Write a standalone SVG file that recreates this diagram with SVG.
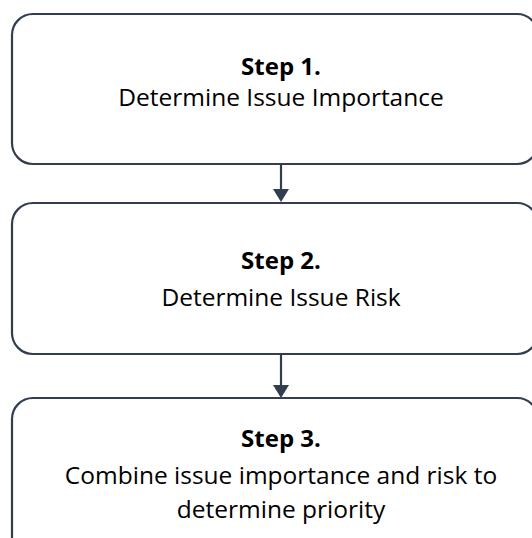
<svg xmlns="http://www.w3.org/2000/svg" width="532" height="538" viewBox="0 0 532 538">
<defs>
<style>
.box{fill:#fff;stroke:#323e50;stroke-width:2.2}
.t{font-family:"Open Sans","Liberation Sans",sans-serif;font-size:24.5px;fill:#000;text-anchor:middle}
.b{font-weight:bold;font-size:24px}
.c{stroke:#323e50;stroke-width:2.2;fill:none}
.h{fill:#323e50}
</style>
</defs>
<rect width="532" height="538" fill="#fff"/>
<g id="connectors">
<line class="c" x1="281" y1="164" x2="281" y2="190"/>
<polygon class="h" points="273,189 289,189 281,202"/>
<line class="c" x1="281" y1="354" x2="281" y2="386"/>
<polygon class="h" points="273,385 289,385 281,398"/>
</g>
<g id="step1">
<rect class="box" x="12" y="14" width="526" height="150" rx="21"/>
<text class="t b" x="281" y="75">Step 1.</text>
<text class="t" x="281" y="106">Determine Issue Importance</text>
</g>
<g id="step2">
<rect class="box" x="12" y="203" width="526" height="151" rx="21"/>
<text class="t b" x="281" y="269">Step 2.</text>
<text class="t" x="281" y="306">Determine Issue Risk</text>
</g>
<g id="step3">
<rect class="box" x="12" y="398" width="526" height="160" rx="21"/>
<text class="t b" x="281" y="447">Step 3.</text>
<text class="t" x="281" y="484">Combine issue importance and risk to</text>
<text class="t" x="281" y="518">determine priority</text>
</g>
</svg>
